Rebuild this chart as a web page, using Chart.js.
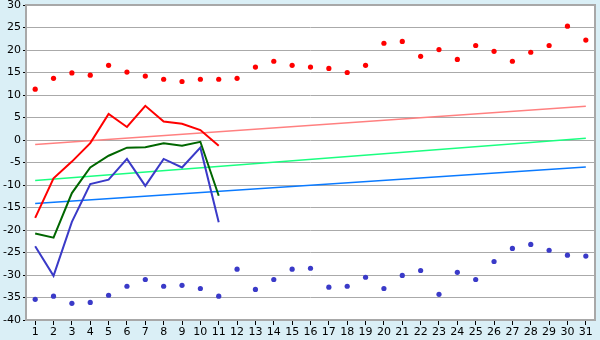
<!DOCTYPE html>
<html>
<head>
<meta charset="utf-8">
<script src="https://cdn.jsdelivr.net/npm/chart.js@4/dist/chart.umd.min.js"></script>
<style>
  html, body { margin: 0; padding: 0; background: #daeff6; }
  #wrap { width: 600px; height: 340px; }
</style>
</head>
<body>
<div id="wrap"><canvas id="chart_1" width="600" height="340"></canvas></div>
<script>
var days = ['1','2','3','4','5','6','7','8','9','10','11','12','13','14','15','16',
  '17','18','19','20','21','22','23','24','25','26','27','28','29','30','31'];

// daily highs / lows (markers)
var highPoints = [11.3, 13.7, 14.9, 14.4, 16.6, 15.1, 14.2, 13.5, 13.0, 13.5, 13.5, 13.7, 16.2, 17.5, 16.6, 16.2,
  15.9, 15.0, 16.6, 21.5, 21.9, 18.6, 20.1, 17.9, 21.0, 19.7, 17.5, 19.5, 21.0, 25.3, 22.2];
var lowPoints = [-35.4, -34.7, -36.3, -36.1, -34.5, -32.5, -31.0, -32.5, -32.3, -33.0, -34.7, -28.7, -33.2, -31.0, -28.7, -28.5,
  -32.7, -32.5, -30.5, -33.0, -30.1, -29.0, -34.3, -29.4, -31.0, -27.0, -24.1, -23.2, -24.5, -25.6, -25.8];

// measured lines, first 11 days only
var maxLine = [-17.3, -8.5, -4.8, -0.7, 5.8, 2.9, 7.6, 4.1, 3.6, 2.2, -1.3];
var meanLine = [-20.8, -21.7, -11.8, -6.1, -3.5, -1.7, -1.6, -0.7, -1.3, -0.4, -12.4];
var minLine = [-23.6, -30.2, -18.2, -9.8, -8.8, -4.2, -10.2, -4.2, -6.1, -1.7, -18.3];

// trend lines: value at day 1 and day 31
var maxTrend = [-1.0, 7.5];
var meanTrend = [-9.0, 0.4];
var minTrend = [-14.1, -6.0];

function trendData(ends) {
  return [{ x: days[0], y: ends[0] }, { x: days[days.length - 1], y: ends[1] }];
}

function lineSet(data, color) {
  return {
    data: data,
    borderColor: color,
    borderWidth: 2,
    pointRadius: 0,
    fill: false,
    order: 1
  };
}

function trendSet(ends, color) {
  return {
    data: trendData(ends),
    borderColor: color,
    borderWidth: 1.4,
    pointRadius: 0,
    fill: false,
    order: 3
  };
}

function markerSet(data, color) {
  return {
    data: data,
    showLine: false,
    borderColor: color,
    backgroundColor: color,
    pointStyle: 'circle',
    pointRadius: 2.6,
    pointBorderWidth: 0,
    order: 2
  };
}

// white plot area with grey frame
var plotFrame = {
  id: 'plotFrame',
  beforeDraw: function (chart) {
    var ctx = chart.ctx;
    var a = chart.chartArea;
    ctx.save();
    ctx.fillStyle = '#ffffff';
    ctx.fillRect(a.left, a.top, a.right - a.left, a.bottom - a.top);
    ctx.restore();
  },
  afterDatasetsDraw: function (chart) {
    var ctx = chart.ctx;
    var a = chart.chartArea;
    ctx.save();
    ctx.strokeStyle = '#a8a8a8';
    ctx.lineWidth = 2;
    ctx.strokeRect(a.left, a.top, a.right - a.left, a.bottom - a.top);
    ctx.restore();
  }
};

Chart.defaults.font.family = 'DejaVu Sans';
Chart.defaults.font.size = 11;
Chart.defaults.color = '#000';

var ctx = document.getElementById('chart_1').getContext('2d');
var chart = new Chart(ctx, {
  type: 'line',
  data: {
    labels: days,
    datasets: [
      lineSet(maxLine, '#ff0000'),
      lineSet(meanLine, '#006600'),
      lineSet(minLine, '#3a3ac8'),
      markerSet(highPoints, '#ff0000'),
      markerSet(lowPoints, '#3a3ac8'),
      trendSet(maxTrend, '#ff8080'),
      trendSet(meanTrend, '#1aff80'),
      trendSet(minTrend, '#0a7aff')
    ]
  },
  options: {
    responsive: false,
    animation: false,
    layout: { padding: { top: 5, right: 5, left: 0, bottom: 0 } },
    plugins: {
      legend: { display: false },
      tooltip: { enabled: false }
    },
    scales: {
      x: {
        offset: true,
        grid: {
          drawOnChartArea: false,
          offset: false,
          tickLength: 5,
          tickColor: '#000'
        },
        border: { display: false },
        ticks: { maxRotation: 0, autoSkip: false, padding: 1 },
        afterFit: function (scale) { scale.height = 20; }
      },
      y: {
        min: -40,
        max: 30,
        ticks: { stepSize: 5, padding: 2 },
        grid: {
          color: '#aaaaaa',
          tickLength: 3,
          tickColor: '#000'
        },
        border: { display: false },
        afterFit: function (scale) {
          scale.width = 26;
          // let the top label overhang the frame like the original
          scale.paddingTop = 0;
          scale.paddingBottom = 0;
        }
      }
    }
  },
  plugins: [plotFrame]
});
</script>
</body>
</html>
